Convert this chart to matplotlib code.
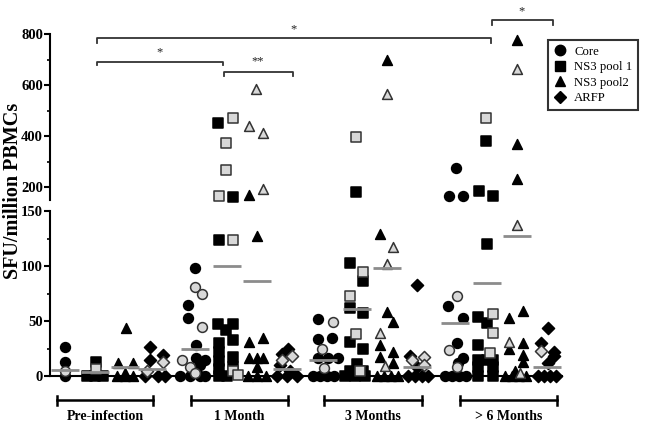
import matplotlib
matplotlib.use("Agg")
import matplotlib.pyplot as plt
from matplotlib.lines import Line2D
from matplotlib.ticker import MultipleLocator

plt.rcParams["font.family"] = ["Liberation Serif", "DejaVu Serif"]

groups = ["Pre-infection", "1 Month", "3 Months", "> 6 Months"]
antigens = ["Core", "NS3 pool 1", "NS3 pool2", "ARFP"]
legend_labels = ["Core", "NS3 pool 1", "NS3 pool2", "ARFP"]
markers = ["o", "s", "^", "D"]

# values per group (pre, 1m, 3m, >6m); black = filled, gray = light filled
core_black = [[26, 13, 0],
              [98, 65, 53, 28, 16, 15, 10, 0, 0, 0, 0],
              [52, 34, 35, 16, 16, 16, 0, 0, 0, 0],
              [277, 166, 166, 64, 53, 30, 16, 12, 0, 0, 0, 0]]
core_black_dx = [[0, 0, 0],
                 [0, -7, -7, 1, 1, 10, 5, -15, -5, 5, 10],
                 [-5, -5, 9, -5, 5, 15, -10, -3, 4, 11],
                 [1, -6, 8, -7, 8, 2, 8, 3, -10, -3, 4, 11]]
core_gray = [[5], [81, 75, 45, 15, 8, 3], [49, 25, 7], [73, 24, 8]]
core_gray_dx = [[0], [0, 7, 7, -13, -5, 0], [10, -1, 1], [2, -6, 2]]

ns3p1_black = [[13, 0, 0, 0],
               [450, 161, 124, 47, 47, 42, 33, 30, 22, 17, 14, 8, 6, 0, 0],
               [182, 103, 86, 62, 57, 31, 25, 11, 5, 5, 0, 0, 0],
               [381, 186, 166, 120, 54, 48, 28, 15, 15, 15, 8, 8, 0, 0]]
ns3p1_black_dx = [[1, -8, 0, 8],
                  [-9, 6, -8, -9, 6, -1, 6, -8, -8, 6, -8, 6, -8, -8, 0],
                  [-1, -7, 6, -7, 6, -7, 6, 0, -7, 6, -12, -2, 8],
                  [-1, -8, 6, 0, -9, 0, -9, -9, 0, 6, -9, 6, -9, 6]]
ns3p1_gray = [[6], [473, 372, 266, 166, 124, 5, 1], [396, 95, 73, 38, 5], [472, 56, 39, 21]]
ns3p1_gray_dx = [[1], [6, -1, -1, -8, 6, 6, 11], [-1, 6, -7, -1, 3], [-1, 6, 6, 3]]

ns3p2_black = [[44, 12, 12, 3, 0, 0, 0],
               [169, 127, 35, 31, 16, 16, 16, 8, 0, 0, 0],
               [697, 129, 58, 49, 28, 22, 17, 12, 0, 0, 0, 0],
               [775, 368, 231, 59, 53, 30, 25, 19, 13, 5, 0, 0, 0, 0]]
ns3p2_black_dx = [[1, -7, 8, 0, -8, 0, 8],
                  [-8, 0, 6, -8, -8, 0, 6, 0, -9, 0, 9],
                  [0, -7, 0, 6, -7, 6, -7, 6, -10, -3, 4, 11],
                  [0, 0, 0, 6, -8, 6, -8, 6, 6, -2, -12, -5, 2, 9]]
ns3p2_gray = [[], [586, 439, 411, 192], [564, 117, 102, 39, 9], [663, 137, 31, 3]]
ns3p2_gray_dx = [[], [-1, -8, 6, 6], [0, 6, 0, -7, -2], [0, 0, -8, 3]]

arfp_black = [[26, 19, 15, 0, 0, 0],
              [25, 20, 10, 5, 0, 0, 0],
              [83, 18, 8, 0, 0, 0, 0],
              [44, 30, 22, 18, 12, 0, 0, 0, 0]]
arfp_black_dx = [[-2, 11, -2, -7, 6, 13],
                 [1, -5, -7, 3, -10, 0, 10],
                 [0, -7, 0, -9, -2, 5, 11],
                 [1, -6, 7, 7, 1, -9, -3, 3, 9]]
arfp_gray = [[13, 5], [18, 15], [17, 15, 10], [23]]
arfp_gray_dx = [[11, -5], [5, -5], [7, -5, 7], [-6]]

means = [[5.5, 25, 15, 48],    # core
         [4, 100, 61, 85],     # NS3 pool 1
         [8, 86, 98, 127],     # NS3 pool2
         [6, 6, 8, 8]]         # ARFP

black_sets = [core_black, ns3p1_black, ns3p2_black, arfp_black]
black_dxs = [core_black_dx, ns3p1_black_dx, ns3p2_black_dx, arfp_black_dx]
gray_sets = [core_gray, ns3p1_gray, ns3p2_gray, arfp_gray]
gray_dxs = [core_gray_dx, ns3p1_gray_dx, ns3p2_gray_dx, arfp_gray_dx]

# layout (x in pixel-like units)
col_x = [[65, 95, 125, 152],
         [195, 227, 257, 287],
         [323, 357, 387, 417],
         [455, 487, 517, 547]]
group_bar = [(57, 153), (191, 288), (324, 422), (460, 557)]

W, H = 645, 429
fig = plt.figure(figsize=(W / 100, H / 100), dpi=100)
ax_bot = fig.add_axes([50 / W, 53 / H, 550 / W, 165 / H])
ax_top = fig.add_axes([50 / W, 229 / H, 550 / W, 166 / H])

ax_bot.set_ylim(0, 150)
ax_top.set_ylim(150, 800)
ax_bot.set_yticks([0, 50, 100, 150])
ax_bot.yaxis.set_minor_locator(MultipleLocator(25))
ax_top.set_yticks([200, 400, 600, 800])
ax_top.yaxis.set_minor_locator(MultipleLocator(100))
for ax in (ax_bot, ax_top):
    ax.set_xlim(50, 600)
    for s in ["top", "right", "bottom"]:
        ax.spines[s].set_visible(False)
    ax.spines["left"].set_linewidth(1.5)
    ax.set_xticks([])
    ax.patch.set_alpha(0)
    ax.tick_params(axis="y", which="major", length=4, width=1.5, labelsize=10.5, pad=1)
    ax.tick_params(axis="y", which="minor", length=2.5, width=1.2)
    for lab in ax.get_yticklabels():
        lab.set_fontweight("bold")


def draw(x, v, m, face, edge, z):
    ax = ax_top if v > 150 else ax_bot
    ax.scatter([x], [v], marker=m, s=50 if m != "D" else 38, facecolor=face,
               edgecolor=edge, linewidths=1.1, zorder=z, clip_on=False)


for a in range(4):
    for g in range(4):
        cx = col_x[g][a]
        for v, dx in zip(black_sets[a][g], black_dxs[a][g]):
            draw(cx + dx, v, markers[a], "black", "black", 3)
        for v, dx in zip(gray_sets[a][g], gray_dxs[a][g]):
            draw(cx + dx, v, markers[a], "#d8d8d8", "#333333", 4)
        mv = means[a][g]
        ax = ax_top if mv > 150 else ax_bot
        ax.plot([cx - 14, cx + 14], [mv, mv], color="#8c8c8c", lw=2, zorder=5,
                solid_capstyle="butt", clip_on=False)

# zero baseline
ax_bot.plot([50, 562], [0, 0], color="black", lw=1.5, zorder=2, clip_on=False)

# group bars and labels
for (x0, x1), name in zip(group_bar, groups):
    ax_bot.plot([x0, x1], [-22, -22], color="black", lw=1.8, clip_on=False)
    for xe in (x0, x1):
        ax_bot.plot([xe, xe], [-18, -26], color="black", lw=1.8, clip_on=False)
    ax_bot.text((x0 + x1) / 2, -37, name, ha="center", va="center",
                fontsize=10, fontweight="bold")

# significance brackets (top axis data coords)
brackets = [(97, 491, 785, 766, "*", 294, 820),
            (97, 223, 692, 680, "*", 160, 728),
            (224, 293, 653, 637, "**", 258, 693),
            (492, 553, 855, 836, "*", 522, 890)]
for x0, x1, y, yt, lab, sx, sy in brackets:
    ax_top.plot([x0, x0, x1, x1], [yt, y, y, yt], color="#333333", lw=1.3,
                clip_on=False)
    ax_top.text(sx, sy, lab, ha="center", va="center", fontsize=9,
                color="#222222", clip_on=False)

fig.text(13 / W, 1 - 191 / H, "SFU/million PBMCs", rotation=90, ha="center",
         va="center", fontsize=14.5, fontweight="bold")

handles = [Line2D([], [], marker=m, color="black", ls="none", markersize=7.5 if m != "D" else 6.5)
           for m in markers]
leg = fig.legend(handles, legend_labels, loc="upper left",
                 bbox_to_anchor=(548 / W, 1 - 40 / H), frameon=True, fancybox=False,
                 edgecolor="black", fontsize=9.2, handlelength=1.0, handletextpad=0.6,
                 borderpad=0.45, labelspacing=0.28, borderaxespad=0)
leg.get_frame().set_linewidth(1.5)

fig.savefig("out.png", dpi=100)
